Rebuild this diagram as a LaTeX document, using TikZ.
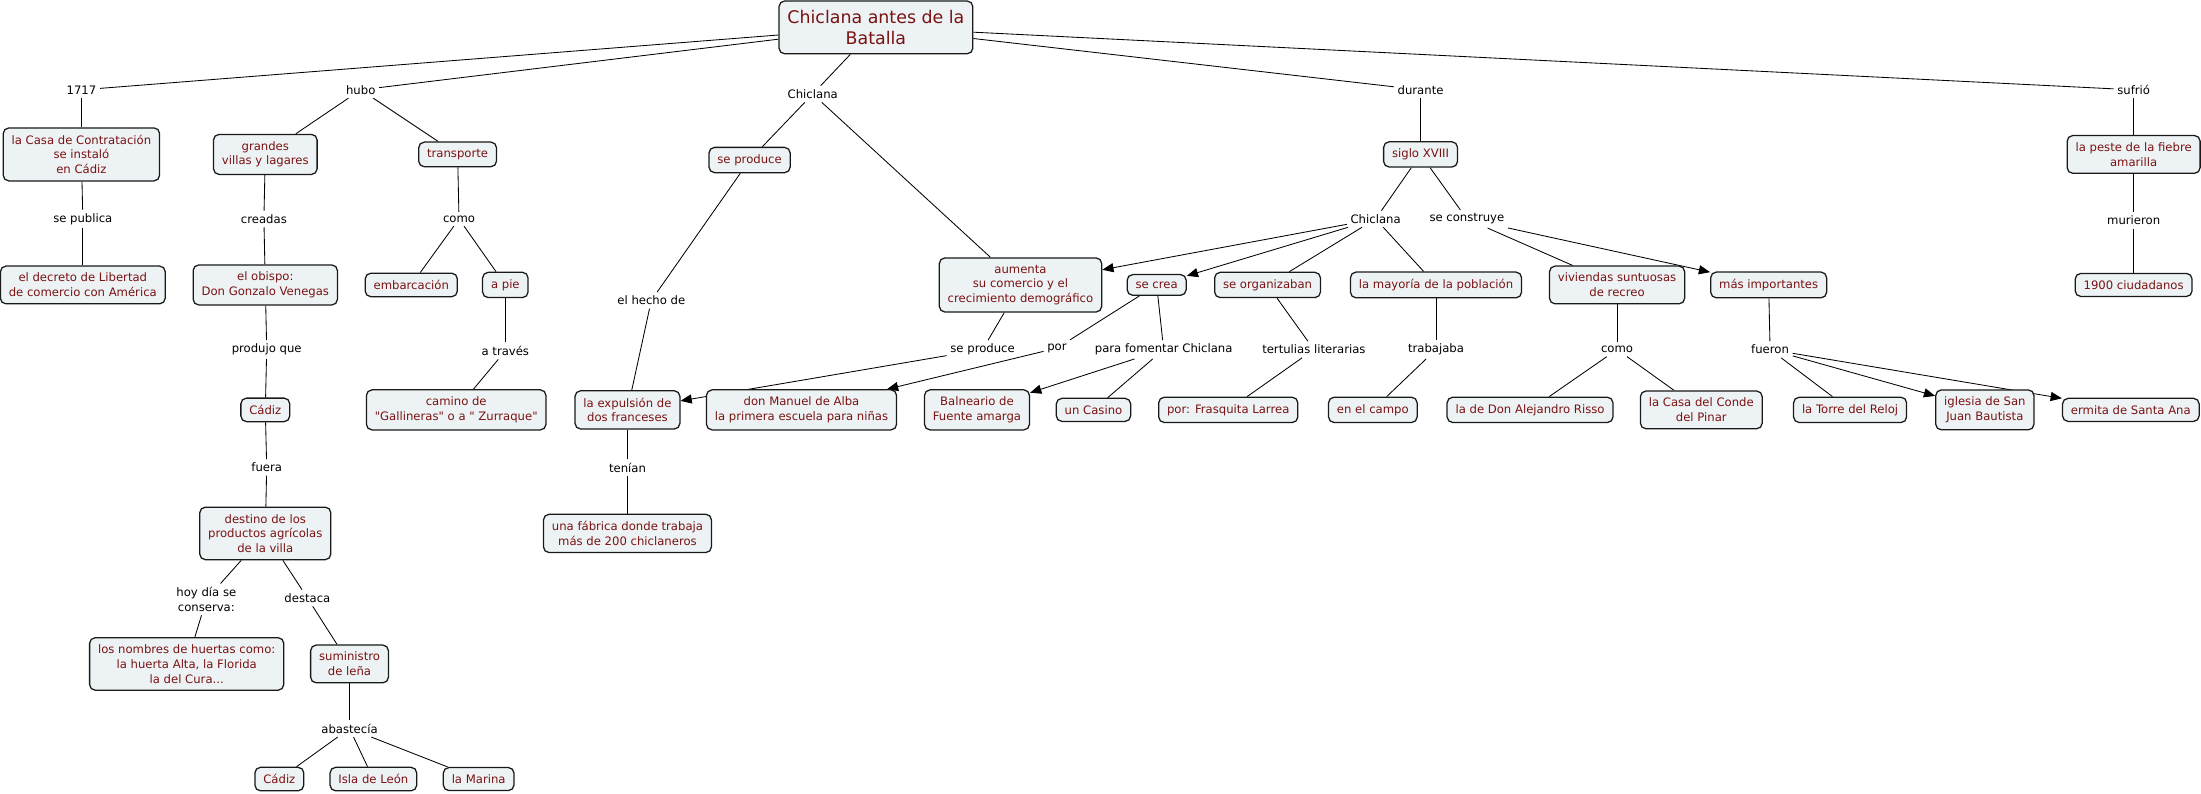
\documentclass[tikz,border=0pt]{standalone}
\usepackage{fontspec}
\setmainfont{DejaVu Sans}[Ligatures=TeXOff]
\usetikzlibrary{arrows.meta,backgrounds}
\definecolor{cfill}{RGB}{237,243,245}
\definecolor{ctext}{RGB}{122,18,18}
\tikzset{
 concept/.style={draw=black!90, line width=0.9pt, fill=cfill, rounded corners=4pt, text=ctext,
   font=\fontsize{8.3}{10.5}\selectfont, align=center, inner xsep=6pt, inner ysep=5pt},
 rootc/.style={concept, font=\fontsize{12.4}{15}\selectfont, inner xsep=6pt, inner ysep=6.5pt},
 lab/.style={text=black, font=\fontsize{8.3}{10.5}\selectfont, align=center, inner sep=2.5pt},
 conn/.style={draw=black, line width=0.6pt},
 arr/.style={conn, -{Triangle[length=8pt,width=6.5pt]}},
}
\begin{document}
\begin{tikzpicture}[x=1pt,y=-1pt]
\useasboundingbox (0,0) rectangle (1568,565);
% concepts
\node[rootc] (root) at (624,19.5) {Chiclana antes de la\\Batalla};
\node[concept] (casa) at (58,110) {la Casa de Contratación\\se instaló\\en Cádiz};
\node[concept] (grandes) at (189,110) {grandes\\villas y lagares};
\node[concept] (transp) at (326,110) {transporte};
\node[concept] (seprod) at (534,114) {se produce};
\node[concept] (siglo) at (1012,110) {siglo XVIII};
\node[concept] (peste) at (1520,110) {la peste de la fiebre\\amarilla};
\node[concept] (decreto) at (59,203) {el decreto de Libertad\\de comercio con América};
\node[concept] (obispo) at (189,203) {el obispo:\\Don Gonzalo Venegas};
\node[concept] (embar) at (293,203) {embarcación};
\node[concept] (apie) at (360,203) {a pie};
\node[concept] (aumenta) at (727,203) {aumenta\\su comercio y el\\crecimiento demográfico};
\node[concept] (secrea) at (824,203) {se crea};
\node[concept] (seorg) at (903,203) {se organizaban};
\node[concept] (mayoria) at (1023,203) {la mayoría de la población};
\node[concept] (viviendas) at (1152,203) {viviendas suntuosas\\de recreo};
\node[concept] (masimp) at (1260,203) {más importantes};
\node[concept] (ciud) at (1520,203) {1900 ciudadanos};
\node[concept] (cadiz1) at (189,292) {Cádiz};
\node[concept] (camino) at (325,292) {camino de\\"Gallineras" o a " Zurraque"};
\node[concept] (expul) at (447,292) {la expulsión de\\dos franceses};
\node[concept] (manuel) at (571,292) {don Manuel de Alba\\la primera escuela para niñas};
\node[concept] (balne) at (696,292) {Balneario de\\Fuente amarga};
\node[concept] (casino) at (779,292) {un Casino};
\node[concept] (frasq) at (875,292) {por: Frasquita Larrea};
\node[concept] (campo) at (978,292) {en el campo};
\node[concept] (risso) at (1090,292) {la de Don Alejandro Risso};
\node[concept] (conde) at (1212,292) {la Casa del Conde\\del Pinar};
\node[concept] (torre) at (1318,292) {la Torre del Reloj};
\node[concept] (iglesia) at (1414,292) {iglesia de San\\Juan Bautista};
\node[concept] (ermita) at (1518,292) {ermita de Santa Ana};
\node[concept] (destino) at (189,380) {destino de los\\productos agrícolas\\de la villa};
\node[concept] (fabrica) at (447,380) {una fábrica donde trabaja\\más de 200 chiclaneros};
\node[concept] (nombres) at (133,473) {los nombres de huertas como:\\la huerta Alta, la Florida\\la del Cura...};
\node[concept] (sumin) at (249,473) {suministro\\de leña};
\node[concept] (cadiz2) at (199,555) {Cádiz};
\node[concept] (isla) at (266,555) {Isla de León};
\node[concept] (marina) at (341,555) {la Marina};
% linking phrases
\node[lab] (l1717) at (58,64) {1717};
\node[lab] (lhubo) at (257,64) {hubo};
\node[lab] (lchic1) at (579,67) {Chiclana};
\node[lab] (ldur) at (1012,64) {durante};
\node[lab] (lsuf) at (1520,64) {sufrió};
\node[lab] (lpub) at (59,156) {se publica};
\node[lab] (lcread) at (188,156) {creadas};
\node[lab] (lcomo1) at (327,156) {como};
\node[lab] (lchic2) at (980,156) {Chiclana};
\node[lab] (lconst) at (1045,156) {se construye};
\node[lab] (lmur) at (1520,157) {murieron};
\node[lab] (lhecho) at (464,214) {el hecho de};
\node[lab] (lprod) at (190,249) {produjo que};
\node[lab] (latrav) at (360,250) {a través};
\node[lab] (lseprod) at (700,249) {se produce};
\node[lab] (lpor) at (753,248) {por};
\node[lab] (lpara) at (829,249) {para fomentar Chiclana};
\node[lab] (ltert) at (936,249) {tertulias literarias};
\node[lab] (ltrab) at (1023,249) {trabajaba};
\node[lab] (lcomo2) at (1152,249) {como};
\node[lab] (lfue) at (1261,249) {fueron};
\node[lab] (lfuera) at (190,333) {fuera};
\node[lab] (lten) at (447,333) {tenían};
\node[lab] (lhoy) at (147,427) {hoy día se\\conserva:};
\node[lab] (ldest) at (219,426) {destaca};
\node[lab] (labast) at (249,519) {abastecía};
% connectors
\begin{scope}[on background layer]
\draw[conn] (root) -- (l1717);
\draw[conn] (l1717) -- (casa);
\draw[conn] (casa) -- (lpub);
\draw[conn] (lpub) -- (decreto);
\draw[conn] (root) -- (lhubo);
\draw[conn] (lhubo) -- (grandes);
\draw[conn] (lhubo) -- (transp);
\draw[conn] (grandes) -- (lcread);
\draw[conn] (lcread) -- (obispo);
\draw[conn] (obispo) -- (lprod);
\draw[conn] (lprod) -- (cadiz1);
\draw[conn] (cadiz1) -- (lfuera);
\draw[conn] (lfuera) -- (destino);
\draw[conn] (destino) -- (lhoy);
\draw[conn] (lhoy) -- (nombres);
\draw[conn] (destino) -- (ldest);
\draw[conn] (ldest) -- (sumin);
\draw[conn] (sumin) -- (labast);
\draw[conn] (labast) -- (cadiz2);
\draw[conn] (labast) -- (isla);
\draw[conn] (labast) -- (marina);
\draw[conn] (transp) -- (lcomo1);
\draw[conn] (lcomo1) -- (embar);
\draw[conn] (lcomo1) -- (apie);
\draw[conn] (apie) -- (latrav);
\draw[conn] (latrav) -- (camino);
\draw[conn] (root) -- (lchic1);
\draw[conn] (lchic1) -- (seprod);
\draw[conn] (seprod) -- (lhecho);
\draw[conn] (lhecho) -- (expul);
\draw[conn] (expul) -- (lten);
\draw[conn] (lten) -- (fabrica);
\draw[conn] (lchic1) -- (aumenta);
\draw[conn] (aumenta) -- (lseprod);
\draw[arr] (lseprod) -- (expul);
\draw[conn] (root) -- (ldur);
\draw[conn] (ldur) -- (siglo);
\draw[conn] (siglo) -- (lchic2);
\draw[conn] (siglo) -- (lconst);
\draw[arr] (lchic2) -- (aumenta);
\draw[arr] (lchic2) -- (secrea);
\draw[conn] (lchic2) -- (seorg);
\draw[conn] (lchic2) -- (mayoria);
\draw[conn] (lconst) -- (viviendas);
\draw[arr] (lconst) -- (masimp);
\draw[conn] (secrea) -- (lpor);
\draw[arr] (lpor) -- (manuel);
\draw[conn] (secrea) -- (lpara);
\draw[arr] (lpara) -- (balne);
\draw[conn] (lpara) -- (casino);
\draw[conn] (seorg) -- (ltert);
\draw[conn] (ltert) -- (frasq);
\draw[conn] (mayoria) -- (ltrab);
\draw[conn] (ltrab) -- (campo);
\draw[conn] (viviendas) -- (lcomo2);
\draw[conn] (lcomo2) -- (risso);
\draw[conn] (lcomo2) -- (conde);
\draw[conn] (masimp) -- (lfue);
\draw[conn] (lfue) -- (torre);
\draw[arr] (lfue) -- (iglesia);
\draw[arr] (lfue) -- (ermita);
\draw[conn] (root) -- (lsuf);
\draw[conn] (lsuf) -- (peste);
\draw[conn] (peste) -- (lmur);
\draw[conn] (lmur) -- (ciud);
\end{scope}
\end{tikzpicture}
\end{document}
